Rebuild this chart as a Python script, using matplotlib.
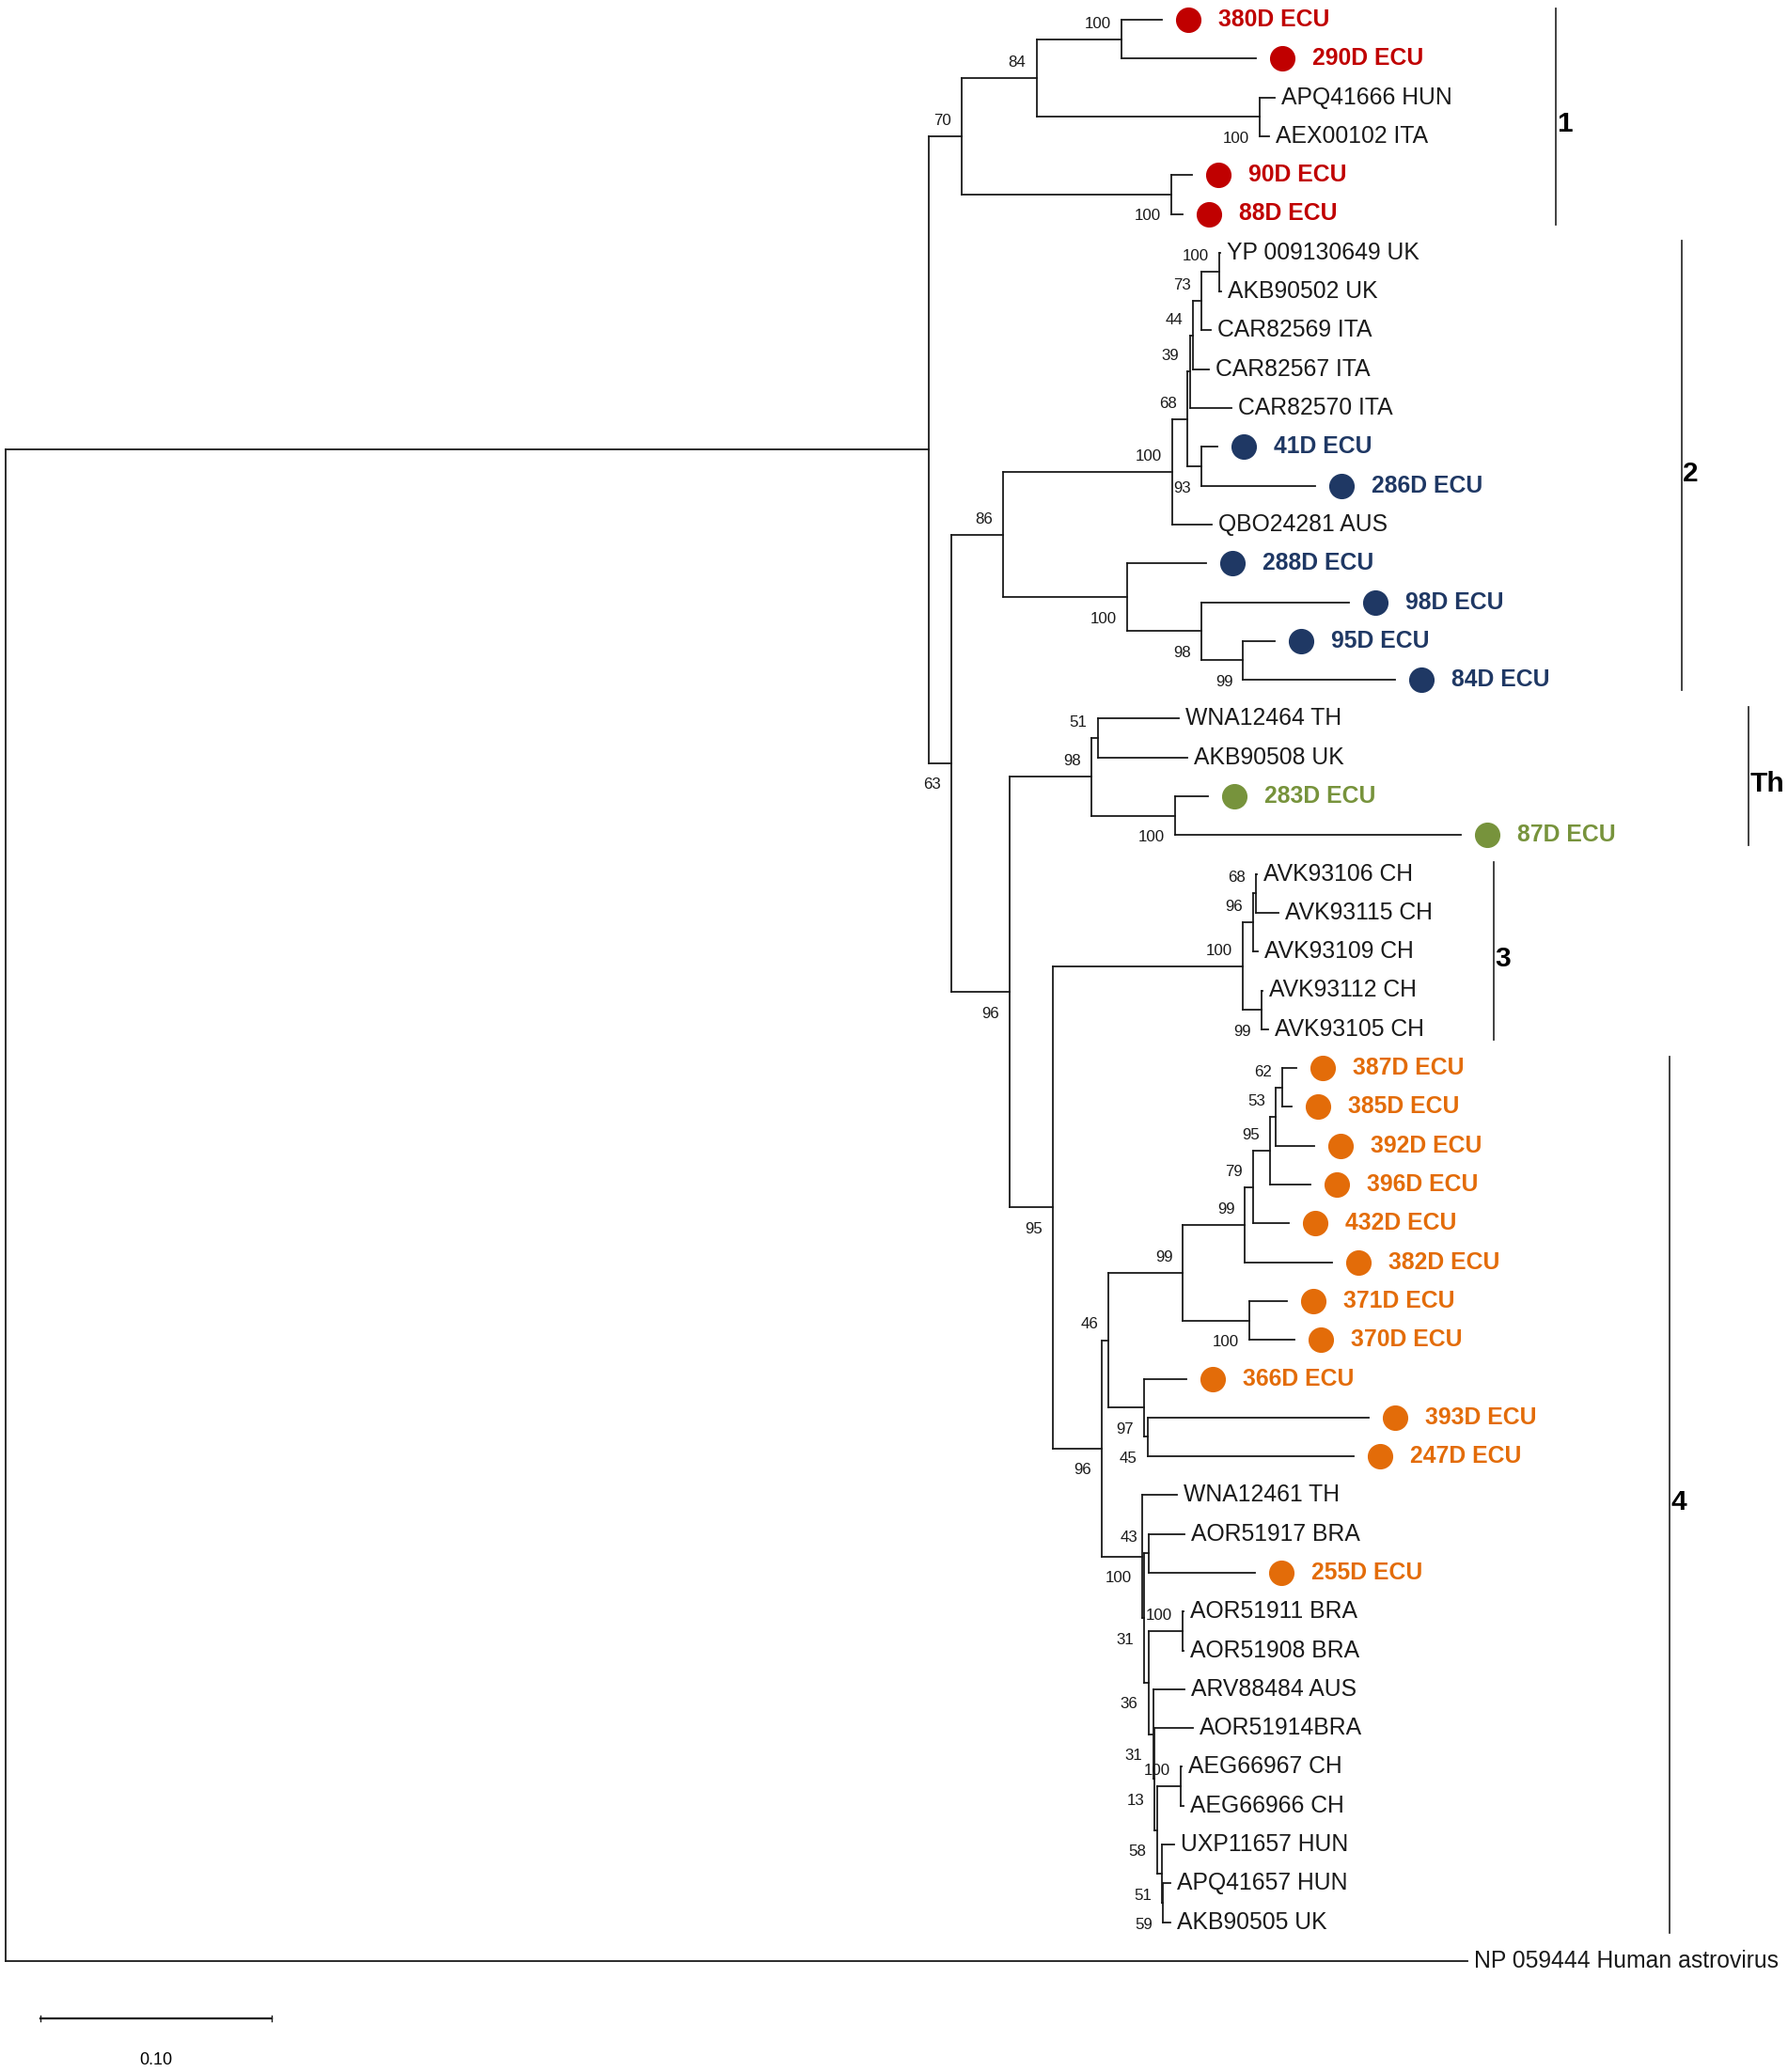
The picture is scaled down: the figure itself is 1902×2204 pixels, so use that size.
import matplotlib
matplotlib.use('Agg')
import matplotlib.pyplot as plt
from matplotlib.transforms import offset_copy

plt.rcParams['font.family'] = ['Liberation Sans', 'DejaVu Sans']

# Tree (Newick, branch lengths in substitutions/site, bootstrap as node labels)
CLADE_1 = ("((('380D ECU':0.0173,'290D ECU':0.0580)100:0.0367,"
           "('APQ41666 HUN':0.0062,'AEX00102 ITA':0.0037)100:0.0966)84:0.0322,"
           "('90D ECU':0.0087,'88D ECU':0.0050)100:0.0905)70:0.0141")
CLADE_2A = ("(((((('YP 009130649 UK':0.0005,'AKB90502 UK':0.0009)100:0.0077,"
            "'CAR82569 ITA':0.0040)73:0.0035,'CAR82567 ITA':0.0067)44:0.0015,"
            "'CAR82570 ITA':0.0181)39:0.0012,('41D ECU':0.0069,'286D ECU':0.0491)93:0.0062)68:0.0062,"
            "'QBO24281 AUS':0.0168)100:0.0732")
CLADE_2B = ("('288D ECU':0.0339,('98D ECU':0.0637,('95D ECU':0.0136,'84D ECU':0.0657)99:0.0179)98:0.0322)"
            "100:0.0536")
CLADE_TH = ("(('WNA12464 TH':0.0352,'AKB90508 UK':0.0387)51:0.0028,"
            "('283D ECU':0.0143,'87D ECU':0.1235)100:0.0362)98:0.0352")
CLADE_3 = ("((('AVK93106 CH':0.0004,'AVK93115 CH':0.0098)68:0.0012,'AVK93109 CH':0.0024)96:0.0043,"
           "('AVK93112 CH':0.0002,'AVK93105 CH':0.0026)99:0.0082)100:0.0819")
CLADE_4A = ("((((((('387D ECU':0.0060,'385D ECU':0.0042)62:0.0027,'392D ECU':0.0164)53:0.0024,"
            "'396D ECU':0.0173)95:0.0076,'432D ECU':0.0158)79:0.0033,'382D ECU':0.0375)99:0.0268,"
            "('371D ECU':0.0162,'370D ECU':0.0195)100:0.0288)99:0.0322,"
            "('366D ECU':0.0182,('393D ECU':0.0956,'247D ECU':0.0893)45:0.0013)97:0.0155)46:0.0027")
CLADE_4B = ("('WNA12461 TH':0.0149,(('AOR51917 BRA':0.0156,'255D ECU':0.0460)43:0.0020,"
            "(('AOR51911 BRA':0.0003,'AOR51908 BRA':0.0004)100:0.0149,"
            "('ARV88484 AUS':0.0135,('AOR51914BRA':0.0166,"
            "(('AEG66967 CH':0.0003,'AEG66966 CH':0.0013)100:0.0103,"
            "('UXP11657 HUN':0.0054,('APQ41657 HUN':0.0031,'AKB90505 UK':0.0031)59:0.0005)51:0.0022)58:0.0010)"
            "13:0.0006)31:0.0020)36:0.0020)31:0.0007)100:0.0173")
OUTGROUP = "'NP 059444 Human astrovirus':0.6312"

TREE = ("((" + CLADE_1 + ",((" + CLADE_2A + "," + CLADE_2B + ")86:0.0225,(" + CLADE_TH + ",("
        + CLADE_3 + ",(" + CLADE_4A + "," + CLADE_4B + ")96:0.0212)95:0.0188)96:0.0253)63:0.0094)"
        ":0.3989," + OUTGROUP + ");")

# clade brackets: name, first leaf, last leaf
CLADE_NAMES = ['1', '2', 'Th', '3', '4']
CLADE_FIRST = ['380D ECU', 'YP 009130649 UK', 'WNA12464 TH', 'AVK93106 CH', '387D ECU']
CLADE_LAST = ['88D ECU', '84D ECU', '87D ECU', 'AVK93105 CH', 'AKB90505 UK']
CLADE_COLORS = {'1': '#C00000', '2': '#1F3864', 'Th': '#77933C', '3': '#000000', '4': '#E36C09'}

SCALE_LEN = 0.10


def parse_newick(s):
    pos = 0

    def node():
        nonlocal pos
        n = {'children': [], 'name': '', 'length': 0.0}
        if s[pos] == '(':
            pos += 1
            while True:
                n['children'].append(node())
                if s[pos] == ',':
                    pos += 1
                else:
                    pos += 1  # ')'
                    break
        if s[pos] == "'":
            end = s.index("'", pos + 1)
            n['name'] = s[pos + 1:end]
            pos = end + 1
        else:
            start = pos
            while s[pos] not in ':,();':
                pos += 1
            n['name'] = s[start:pos]
        if s[pos] == ':':
            pos += 1
            start = pos
            while s[pos] not in ',();':
                pos += 1
            n['length'] = float(s[start:pos])
        return n

    return node()


leaves = []


def layout(n, x0=0.0):
    n['x'] = x0 + n['length']
    if n['children']:
        for ch in n['children']:
            layout(ch, n['x'])
        n['y'] = (n['children'][0]['y'] + n['children'][-1]['y']) / 2
    else:
        n['y'] = len(leaves)
        leaves.append(n)


root = parse_newick(TREE)
layout(root)

PX_UNIT = 2463.0   # pixels per substitution/site
ROOT_PX = 6.0
ROW_PX = 41.3
TOP_PX = 21.0
W, H = 1902, 2204

fig = plt.figure(figsize=(W / 100, H / 100), dpi=100)
ax = fig.add_axes([0, 0, 1, 1])
ax.set_xlim(-ROOT_PX / PX_UNIT, (W - ROOT_PX) / PX_UNIT)
ax.set_ylim((H - TOP_PX) / ROW_PX, -TOP_PX / ROW_PX)
ax.axis('off')

LINE = dict(color='#1a1a1a', lw=1.3, solid_capstyle='projecting')


def draw(n):
    kids = n['children']
    if not kids:
        return
    ax.plot([n['x'], n['x']], [kids[0]['y'], kids[-1]['y']], **LINE)
    for i, ch in enumerate(kids):
        ax.plot([n['x'], ch['x']], [ch['y'], ch['y']], **LINE)
        if ch['children'] and ch['name']:
            dy = 11.9 if i == 0 else -16.6
            ax.annotate(ch['name'], (ch['x'], ch['y']), xytext=(-8, dy),
                        textcoords='offset points', ha='right', va='center',
                        fontsize=12.2, color='#1a1a1a')
        draw(ch)


draw(root)

index = {lf['name']: i for i, lf in enumerate(leaves)}
leaf_clade = {}
for name, a, b in zip(CLADE_NAMES, CLADE_FIRST, CLADE_LAST):
    for i in range(index[a], index[b] + 1):
        leaf_clade[i] = name

marker_tr = offset_copy(ax.transData, fig=fig, x=28, y=0, units='dots')
for i, lf in enumerate(leaves):
    if lf['name'].endswith('ECU'):
        c = CLADE_COLORS[leaf_clade[i]]
        ax.plot(lf['x'], lf['y'], 'o', ms=18.5, color=c, transform=marker_tr)
        ax.annotate(lf['name'], (lf['x'], lf['y']), xytext=(60 * 0.72, 0),
                    textcoords='offset points', ha='left', va='center',
                    fontsize=17.8, fontweight='bold', color=c)
    else:
        ax.annotate(lf['name'], (lf['x'], lf['y']), xytext=(7 * 0.72, 0),
                    textcoords='offset points', ha='left', va='center',
                    fontsize=17.8, color='#1a1a1a')

# clade brackets
BAR_PX = {'1': 1655, '2': 1789, 'Th': 1860, '3': 1589, '4': 1776}
for name, a, b in zip(CLADE_NAMES, CLADE_FIRST, CLADE_LAST):
    bx = (BAR_PX[name] - ROOT_PX) / PX_UNIT
    y0, y1 = index[a] - 0.3, index[b] + 0.27
    ax.plot([bx, bx], [y0, y1], color='#333333', lw=1.3)
    ax.annotate(name, (bx, (y0 + y1) / 2), xytext=(1, -6), textcoords='offset points',
                ha='left', va='center', fontsize=21.5, fontweight='bold', color='black')

# scale bar
sx = (42.7 - ROOT_PX) / PX_UNIT
sy = (2147 - TOP_PX) / ROW_PX
ax.plot([sx, sx + SCALE_LEN], [sy, sy], color='#1a1a1a', lw=1.6)
for xe in (sx, sx + SCALE_LEN):
    ax.plot([xe, xe], [sy - 0.08, sy + 0.08], color='#1a1a1a', lw=1.0)
ax.text(sx + SCALE_LEN / 2, (2191 - TOP_PX) / ROW_PX, f'{SCALE_LEN:.2f}',
        ha='center', va='center', fontsize=13)

fig.savefig('out.png', dpi=100)
